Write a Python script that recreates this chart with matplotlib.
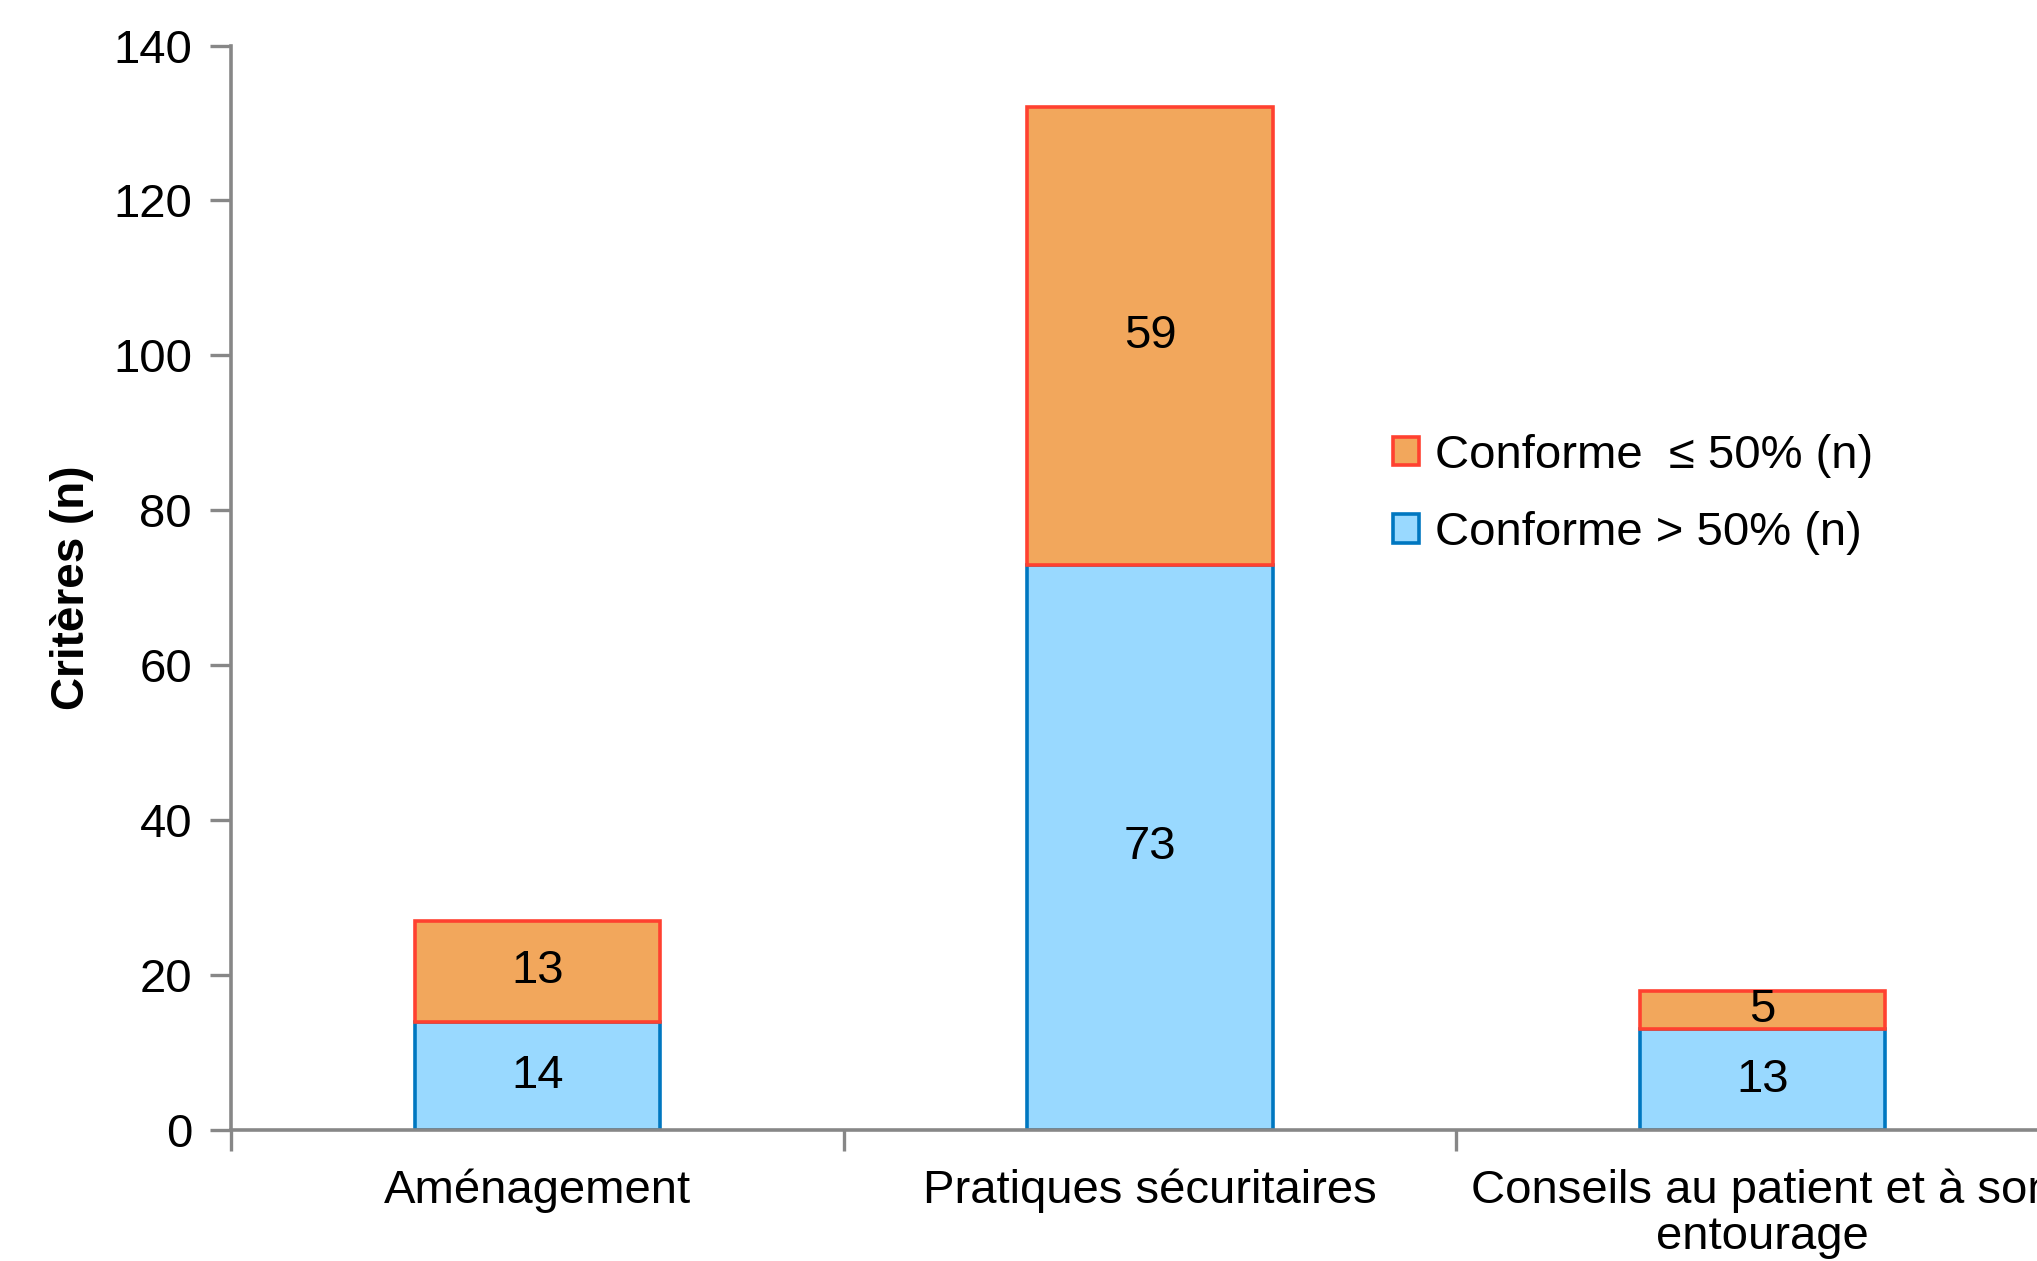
import matplotlib.pyplot as plt
import numpy as np

plt.rcParams['font.family'] = ['Liberation Sans', 'DejaVu Sans']

# Données
categories = ['Aménagement', 'Pratiques sécuritaires', 'Conseils au patient et à son\nentourage']
conforme_sup50 = [14, 73, 13]
conforme_inf50 = [13, 59, 5]
label_sup = 'Conforme > 50% (n)'
label_inf = 'Conforme  ≤ 50% (n)'

fig = plt.figure(figsize=(20.37, 12.61), dpi=100)
ax = fig.add_axes([0.1134, 0.1039, 0.9023, 0.860])

x = np.arange(len(categories))
largeur = 0.4

b1 = ax.bar(x, conforme_sup50, largeur, color='#99D9FF', edgecolor='#0077C0', linewidth=2.6, label=label_sup)
b2 = ax.bar(x, conforme_inf50, largeur, bottom=conforme_sup50, color='#F2A75C', edgecolor='#FF4130',
            linewidth=2.6, label=label_inf)

ax.bar_label(b1, label_type='center', fontsize=34)
ax.bar_label(b2, label_type='center', fontsize=34)

# Axes
ax.set_xlim(-0.5, 2.5)
ax.set_ylim(0, 140)
ax.set_yticks(range(0, 141, 20))
ax.set_xticks(x)
ax.set_xticklabels(categories, fontsize=34, linespacing=1.05)
ax.set_xticks(np.arange(-0.5, 3.0, 1.0), minor=True)
ax.tick_params(axis='x', which='major', length=0, pad=28)
ax.tick_params(axis='x', which='minor', length=15, width=2.4, color='#878787')
ax.tick_params(axis='y', length=15, width=2.4, color='#878787', labelsize=34, pad=13)

for side in ['top', 'right']:
    ax.spines[side].set_visible(False)
for side in ['left', 'bottom']:
    ax.spines[side].set_color('#878787')
    ax.spines[side].set_linewidth(2.6)

ax.set_ylabel('Critères (n)', fontsize=33, fontweight='bold', labelpad=14)

# Légende (ordre : orange en haut)
handles, labels = ax.get_legend_handles_labels()
ax.legend(handles[::-1], labels[::-1], loc='center left', bbox_to_anchor=(0.609, 0.586),
          frameon=False, fontsize=34, handlelength=0.55, handleheight=0.55,
          handletextpad=0.35, labelspacing=0.7)

fig.savefig('out.png', dpi=100)
